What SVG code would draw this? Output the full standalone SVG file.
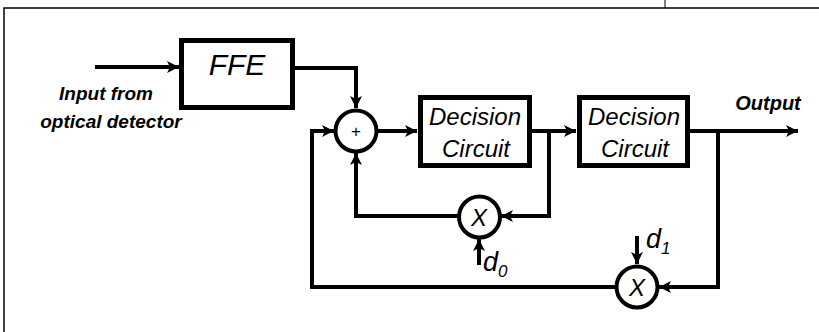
<svg xmlns="http://www.w3.org/2000/svg" width="819" height="332" viewBox="0 0 819 332">
<defs>
<marker id="ah" markerUnits="userSpaceOnUse" markerWidth="14" markerHeight="12" refX="12" refY="6" orient="auto">
<path d="M0,0 L12,6 L0,12 L3,6 Z" fill="#000"/>
</marker>
<style>
.frame{stroke:#000;stroke-width:1.5;fill:none}
.box{fill:#fff;stroke:#000;stroke-width:5}
.circ{fill:#fff;stroke:#000;stroke-width:4}
.wire{fill:none;stroke:#000;stroke-width:4;stroke-linejoin:miter}
.arr{marker-end:url(#ah)}
.lbl{font-family:"Liberation Sans",Arial,sans-serif;font-style:italic;fill:#000}
.blbl{font-family:"Liberation Sans",Arial,sans-serif;font-style:italic;font-weight:bold;fill:#000}
</style>
</defs>
<rect width="819" height="332" fill="#fff"/>
<g id="frame">
<path class="frame" d="M4,332 V8 H819"/>
<path d="M665,0 V8" stroke="#000" stroke-width="1"/>
</g>
<g id="connectors">
<path class="wire arr" d="M95,67 H179"/>
<path class="wire arr" d="M295,68 H356 V108"/>
<path class="wire arr" d="M377,131 H417"/>
<path class="wire arr" d="M532,131 H576"/>
<path class="wire arr" d="M549,131 V216 H501"/>
<path class="wire arr" d="M458,216 H356 V153"/>
<path class="wire arr" d="M479,265 V239"/>
<path class="wire arr" d="M690,131 H798"/>
<path class="wire arr" d="M718,131 V287 H659"/>
<path class="wire arr" d="M616,287 H312 V131 H334"/>
<path class="wire arr" d="M637,236 V264"/>
</g>
<g id="input-label">
<text class="blbl" x="106" y="100" font-size="19" text-anchor="middle">Input from</text>
<text class="blbl" x="111" y="128" font-size="19" text-anchor="middle">optical detector</text>
</g>
<g id="ffe">
<rect class="box" x="181.5" y="40.5" width="111" height="67"/>
<text class="lbl" x="237" y="75" font-size="30" text-anchor="middle">FFE</text>
</g>
<g id="sum">
<circle class="circ" cx="356" cy="131" r="20.5"/>
<text x="356" y="137" font-family="Liberation Sans,Arial,sans-serif" font-size="17" text-anchor="middle">+</text>
</g>
<g id="decision1">
<rect class="box" x="420.5" y="97.5" width="109" height="68"/>
<text class="lbl" x="475" y="125" font-size="24" text-anchor="middle">Decision</text>
<text class="lbl" x="476" y="157" font-size="24" text-anchor="middle">Circuit</text>
</g>
<g id="decision2">
<rect class="box" x="579.5" y="97.5" width="108" height="68"/>
<text class="lbl" x="634" y="125" font-size="24" text-anchor="middle">Decision</text>
<text class="lbl" x="635" y="157" font-size="24" text-anchor="middle">Circuit</text>
</g>
<g id="output-label">
<text class="blbl" x="768" y="110" font-size="20" text-anchor="middle">Output</text>
</g>
<g id="mult0">
<circle class="circ" cx="479.5" cy="217" r="20.5"/>
<text class="lbl" x="479" y="226" font-size="24" text-anchor="middle">X</text>
</g>
<g id="d0-label">
<text class="lbl" x="483" y="271" font-size="27">d<tspan font-size="17" dy="6">0</tspan></text>
</g>
<g id="mult1">
<circle class="circ" cx="637" cy="287" r="20.5"/>
<text class="lbl" x="637" y="296" font-size="24" text-anchor="middle">X</text>
</g>
<g id="d1-label">
<text class="lbl" x="646" y="248" font-size="27">d<tspan font-size="17" dy="6">1</tspan></text>
</g>
</svg>
